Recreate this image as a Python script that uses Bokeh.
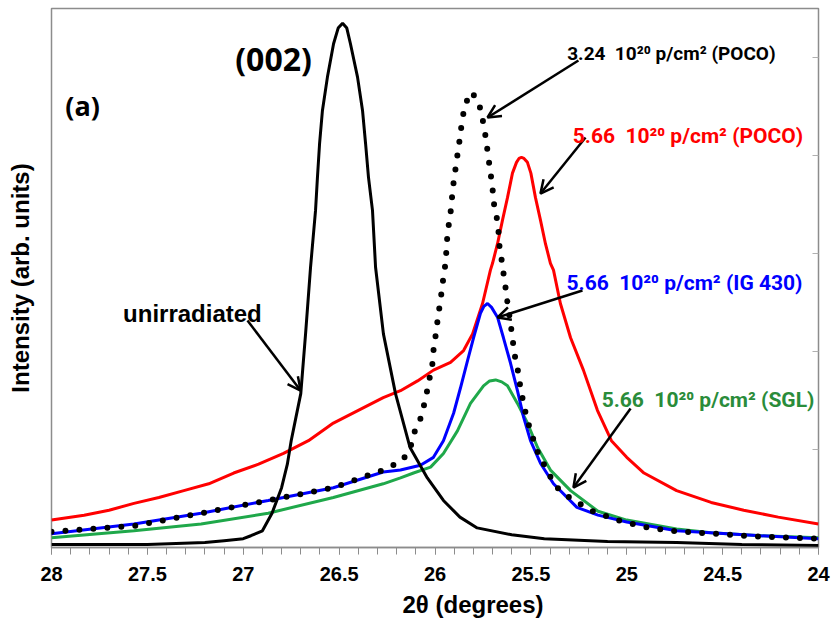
from bokeh.plotting import figure
from bokeh.models import (Range1d, LinearAxis, FixedTicker, SingleIntervalTicker,
                          NumeralTickFormatter, Label, Arrow, OpenHead, ColumnDataSource, Title)
from bokeh.embed import file_html
from bokeh.resources import INLINE

# ---------------- data ----------------
unirr_x = [28.0, 27.5, 27.2, 27.1, 27.0, 26.96, 26.9, 26.85, 26.8, 26.77, 26.75, 26.725, 26.70,
           26.675, 26.649, 26.623, 26.613, 26.602, 26.587, 26.561, 26.529, 26.505, 26.482, 26.46,
           26.441, 26.404, 26.378, 26.362, 26.347, 26.326, 26.310, 26.269, 26.206, 26.13, 26.04,
           25.956, 25.87, 25.78, 25.6, 25.43, 25.1, 24.74, 24.4, 24.0]
unirr_y = [0.03, 0.03, 0.05, 0.07, 0.09, 0.12, 0.17, 0.35, 0.61, 0.85, 1.09, 1.33, 1.57,
           2.18, 2.86, 3.44, 3.78, 4.12, 4.46, 4.80, 5.14, 5.30, 5.35, 5.30,
           5.14, 4.80, 4.46, 4.12, 3.78, 3.44, 2.86, 2.18, 1.57, 1.02, 0.71,
           0.48, 0.31, 0.20, 0.13, 0.09, 0.06, 0.05, 0.03, 0.02]

poco324_x = [28.0, 27.57, 27.22, 26.87, 26.53, 26.27, 26.169, 26.128, 26.112, 26.081, 26.060,
             26.044, 26.029, 26.013, 26.008, 25.997, 25.987, 25.977, 25.966, 25.956, 25.945,
             25.935, 25.924, 25.914, 25.909, 25.898, 25.888, 25.877, 25.867, 25.857, 25.841,
             25.81, 25.773, 25.757, 25.742, 25.731, 25.721, 25.711, 25.700, 25.695, 25.679,
             25.669, 25.664, 25.653, 25.643, 25.632, 25.622, 25.611, 25.601, 25.591, 25.580,
             25.565, 25.554, 25.538, 25.523, 25.502, 25.476, 25.455, 25.413, 25.382, 25.330,
             25.19, 25.05, 24.91, 24.76, 24.54, 24.30, 24.0]
poco324_y = [0.16, 0.22, 0.35, 0.48, 0.61, 0.79, 0.89, 1.02, 1.16, 1.28, 1.43,
             1.57, 1.72, 1.88, 2.01, 2.16, 2.31, 2.45, 2.60, 2.76, 2.90,
             3.20, 3.35, 3.49, 3.64, 3.79, 3.94, 4.08, 4.23, 4.38, 4.53,
             4.65, 4.55, 4.42, 4.27, 4.12, 3.97, 3.83, 3.67, 3.53, 3.38,
             3.23, 3.08, 2.94, 2.80, 2.65, 2.50, 2.35, 2.21, 2.06, 1.91,
             1.78, 1.62, 1.47, 1.33, 1.19, 1.04, 0.92, 0.79, 0.65, 0.55,
             0.38, 0.28, 0.21, 0.17, 0.14, 0.11, 0.09]

poco566_x = [28.0, 27.83, 27.70, 27.57, 27.44, 27.31, 27.18, 27.05, 26.92, 26.79, 26.66,
             26.53, 26.40, 26.27, 26.18, 26.091, 26.008,
             25.919, 25.851, 25.804, 25.752, 25.711, 25.700, 25.674, 25.648, 25.622, 25.596,
             25.575, 25.562, 25.549, 25.536, 25.518, 25.500, 25.476, 25.450, 25.424, 25.398,
             25.382, 25.346, 25.293, 25.226, 25.153, 25.08, 25.0, 24.91, 24.74, 24.56, 24.39,
             24.21, 24.0]
poco566_y = [0.28, 0.33, 0.38, 0.45, 0.51, 0.58, 0.65, 0.76, 0.85, 0.96, 1.09,
             1.27, 1.40, 1.53, 1.60, 1.70, 1.81,
             1.89, 2.01, 2.18, 2.49, 2.83, 2.90, 3.10, 3.34, 3.57, 3.82,
             3.93, 3.97, 3.98, 3.97, 3.93, 3.82, 3.57, 3.34, 3.10, 2.90,
             2.83, 2.49, 2.14, 1.81, 1.40, 1.09, 0.92, 0.76, 0.58, 0.46, 0.38,
             0.31, 0.24]

ig430_x = [28.0, 27.57, 27.22, 26.87, 26.53, 26.27, 26.18, 26.076, 26.008, 25.956, 25.903,
           25.867, 25.830, 25.799, 25.763, 25.745, 25.726, 25.705, 25.674, 25.643, 25.606,
           25.570, 25.538, 25.502, 25.450, 25.382, 25.26, 25.15, 25.0, 24.74, 24.30, 24.0]
ig430_y = [0.14, 0.24, 0.35, 0.48, 0.61, 0.77, 0.79, 0.84, 0.92, 1.09, 1.37,
           1.63, 1.91, 2.14, 2.39, 2.46, 2.49, 2.45, 2.35, 2.14, 1.88,
           1.60, 1.33, 1.09, 0.86, 0.65, 0.41, 0.33, 0.26, 0.17, 0.12, 0.09]

sgl_x = [28.0, 27.57, 27.22, 26.87, 26.53, 26.27, 26.18, 26.112, 26.023, 25.956, 25.883,
         25.815, 25.747, 25.715, 25.684, 25.652, 25.622, 25.570, 25.518, 25.465, 25.398,
         25.293, 25.15, 25.0, 24.74, 24.56, 24.30, 24.0]
sgl_y = [0.10, 0.17, 0.24, 0.35, 0.51, 0.65, 0.71, 0.76, 0.82, 0.96, 1.19,
         1.47, 1.65, 1.70, 1.71, 1.69, 1.65, 1.47, 1.27, 1.02, 0.79,
         0.58, 0.37, 0.28, 0.19, 0.15, 0.12, 0.10]

x_ticks_major = [28, 27.5, 27, 26.5, 26, 25.5, 25, 24.5, 24]
y_ticks = [1, 2, 3, 4, 5]

# annotation texts
NB = "\u00a0"
ann_texts = ["(002)", "(a)", "unirradiated",
             "3.24" + NB + NB + "10\u00b2\u2070 p/cm\u00b2 (POCO)",
             "5.66" + NB + NB + "10\u00b2\u2070 p/cm\u00b2 (POCO)",
             "5.66" + NB + NB + "10\u00b2\u2070 p/cm\u00b2 (IG 430)",
             "5.66" + NB + NB + "10\u00b2\u2070 p/cm\u00b2 (SGL)"]
ann_x = [26.842, 27.838, 27.265, 24.767, 24.681, 24.699, 24.576]
ann_y = [4.99, 4.51, 2.39, 5.04, 4.20, 2.70, 1.51]
ann_color = ["black", "black", "black", "black", "#ff0000", "#0000ff", "#2a8c3a"]
ann_font = ["Open Sans", "Open Sans", "Liberation Sans", "Roboto",
            "Roboto", "Roboto", "Roboto"]
ann_size = ["32px", "27px", "24px", "19px", "21px", "21px", "21px"]

# arrows: start (near label) -> end (on curve)
arr_x0 = [26.978, 25.252, 25.215, 25.231, 24.980]
arr_y0 = [2.316, 4.969, 4.184, 2.622, 1.418]
arr_x1 = [26.701, 25.726, 25.450, 25.674, 25.278]
arr_y1 = [1.602, 4.388, 3.612, 2.347, 0.612]

# ---------------- figure ----------------
p = figure(frame_width=767, frame_height=539,
           x_range=Range1d(28, 24), y_range=Range1d(0, 5.5),
           output_backend="svg", toolbar_location=None,
           min_border_left=51, min_border_right=14, min_border_top=8, min_border_bottom=76)
p.grid.visible = False
p.outline_line_color = "#8c8c8c"
p.outline_line_width = 1.5
p.background_fill_color = "white"
p.border_fill_color = "white"

grey = "#8c8c8c"
xa = p.xaxis[0]
xa.ticker = SingleIntervalTicker(interval=0.5, num_minor_ticks=5)
xa.formatter = NumeralTickFormatter(format="0.[0]")
xa.major_label_text_font = "Liberation Sans"
xa.major_label_text_font_style = "bold"
xa.major_label_text_font_size = "20px"
xa.major_label_text_color = "black"
xa.major_label_standoff = 12
xa.axis_line_color = grey
xa.axis_line_width = 1.5
xa.major_tick_line_color = grey
xa.minor_tick_line_color = grey
xa.major_tick_in = 0
xa.major_tick_out = 7
xa.minor_tick_in = 0
xa.minor_tick_out = 7

ya = p.yaxis[0]
ya.ticker = FixedTicker(ticks=[])
ya.axis_label = "Intensity (arb. units)"
ya.axis_label_text_font = "Liberation Sans"
ya.axis_label_text_font_style = "bold"
ya.axis_label_text_font_size = "24px"
ya.axis_label_text_color = "black"
ya.axis_label_standoff = 18
ya.major_label_standoff = 0
ya.major_tick_out = 0
ya.minor_tick_out = 0
ya.axis_line_color = None

ra = LinearAxis(ticker=FixedTicker(ticks=y_ticks),
                major_label_overrides={t: "" for t in y_ticks},
                major_tick_in=6, major_tick_out=0, minor_tick_in=0, minor_tick_out=0,
                major_label_standoff=0,
                axis_line_color=None, major_tick_line_color="#b0b0b0")
p.add_layout(ra, "right")

# x-axis title
p.add_layout(Title(text="2\u03b8 (degrees)", align="left", offset=351,
                   text_font="Liberation Sans", text_font_size="24px",
                   text_font_style="bold", text_color="black"), "below")

# curves
p.line(poco566_x, poco566_y, line_color="#ff0000", line_width=3)
p.line(sgl_x, sgl_y, line_color="#1fa84a", line_width=3)
p.line(ig430_x, ig430_y, line_color="#0000ff", line_width=3)
p.line(poco324_x, poco324_y, line_color="black", line_width=6,
       line_dash="0 14", line_cap="round")
p.line(unirr_x, unirr_y, line_color="black", line_width=3)

# arrows
arr_src = ColumnDataSource(dict(x0=arr_x0, y0=arr_y0, x1=arr_x1, y1=arr_y1))
p.add_layout(Arrow(source=arr_src, x_start="x0", y_start="y0", x_end="x1", y_end="y1",
                   line_width=2.5, line_color="black",
                   end=OpenHead(size=13, line_width=2.5, line_color="black")))

# labels
for t, x, y, c, f, s in zip(ann_texts, ann_x, ann_y, ann_color, ann_font, ann_size):
    p.add_layout(Label(x=x, y=y, text=t, text_color=c, text_font=f, text_font_size=s,
                       text_font_style="bold", text_align="center",
                       text_baseline="alphabetic"))

open("out.html", "w").write(file_html(p, INLINE))
